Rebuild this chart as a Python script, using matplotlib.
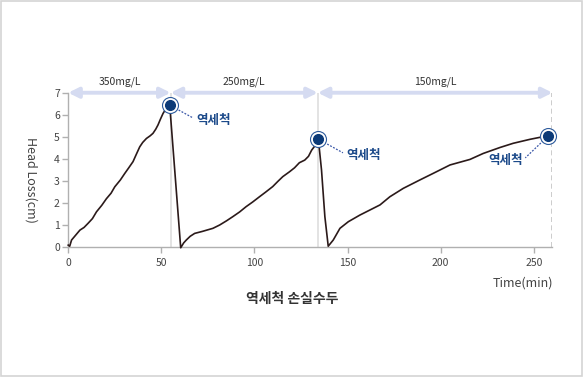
import matplotlib
matplotlib.use("Agg")
import matplotlib.pyplot as plt
from matplotlib.patches import Rectangle

plt.rcParams["font.family"] = ["Noto Sans CJK KR", "DejaVu Sans"]

# head loss curve (three filter runs)
time_min = [0, 0.8, 1.8, 4, 6.3, 8.5, 10.7, 13, 15.2, 18, 20.5, 23, 25, 28, 30.4,
            32.5, 34.8, 36.5, 38.4, 40, 42, 44, 45.5, 47, 48.2, 49.5, 50.9, 52.3,
            53.6, 54.5,
            60.4, 62, 63.4, 65.5, 67.9, 72, 77.7, 81.3, 85, 88.4, 92, 95.5, 99,
            102.7, 106, 109.8, 112.5, 115.2, 118.8, 121.5, 124.1, 127, 129, 130.7,
            132.5, 134.3,
            136, 137.8, 139.6, 142.3, 145.9, 150.4, 156.6, 162, 167.4, 172.7,
            179.9, 188.8, 196, 205, 215.7, 222.8, 231.8, 238.9, 247.9, 255, 257.7]
head_loss = [0.1, 0.05, 0.33, 0.55, 0.78, 0.9, 1.09, 1.3, 1.61, 1.9, 2.2, 2.45, 2.74,
             3.05, 3.35, 3.6, 3.88, 4.2, 4.55, 4.75, 4.93, 5.05, 5.16, 5.35, 5.54,
             5.8, 6.06, 6.25, 6.36, 6.44,
             -0.02, 0.2, 0.33, 0.5, 0.63, 0.72, 0.86, 1.01, 1.2, 1.39, 1.6, 1.84,
             2.05, 2.29, 2.5, 2.75, 2.98, 3.2, 3.42, 3.6, 3.83, 3.95, 4.12, 4.4,
             4.6, 4.9,
             3.5, 1.39, 0.05, 0.33, 0.86, 1.16, 1.46, 1.69, 1.92, 2.29, 2.67, 3.05,
             3.35, 3.73, 3.98, 4.25, 4.52, 4.71, 4.89, 5.01, 5.04]

# backwash points and concentration ranges
backwash_t = [54.5, 134.3, 257.7]
backwash_h = [6.44, 4.9, 5.04]
backwash_label = "역세척"
label_xy = [(69, 5.76), (149.5, 4.18), (243.9, 3.95)]
label_ha = ["left", "left", "right"]
range_edges = [0, 55, 134, 260]
range_labels = ["350mg/L", "250mg/L", "150mg/L"]

x_ticks = [0, 50, 100, 150, 200, 250]
y_ticks = [0, 1, 2, 3, 4, 5, 6, 7]

fig = plt.figure(figsize=(5.84, 3.77), dpi=100)
fig.patches.append(Rectangle((0.001, 0.002), 0.996, 0.995, transform=fig.transFigure,
                             fill=False, edgecolor="#d4d4d4", lw=1.2))
ax = fig.add_axes([0.1168, 0.344, 0.8292, 0.41])

navy = "#0b3a78"
ax.plot(time_min, head_loss, color="#2b1a1a", lw=1.2, clip_on=False, zorder=3)

# separator lines
for e in range_edges[1:-1]:
    ax.plot([e, e], [0, 7], color="#dedede", lw=1.2, zorder=1)
ax.plot([range_edges[-1], range_edges[-1]], [0, 7], color="#c4c4c4", lw=1.2,
        ls=(0, (3, 2)), zorder=1)

# concentration arrows
for i, lab in enumerate(range_labels):
    a, b = range_edges[i], range_edges[i + 1]
    ax.annotate("", xy=(b, 7), xytext=(a, 7),
                arrowprops=dict(arrowstyle="<|-|>,head_length=0.6,head_width=0.3",
                                color="#d5dbf1", lw=2.8, shrinkA=0, shrinkB=0),
                annotation_clip=False)
    ax.text((a + b) / 2, 7.25, lab, ha="center", va="bottom", fontsize=7.5,
            color="#333333")

# backwash markers
for (t, h), (lx, ly), ha in zip(zip(backwash_t, backwash_h), label_xy, label_ha):
    lx_line = lx - 2 if ha == "left" else lx + 1.5
    ax.plot([t, lx_line], [h, ly + 0.1], color="#3a57a8", lw=0.9, ls=(0, (1.5, 1.2)),
            zorder=4, clip_on=False)
    ax.plot(t, h, "o", ms=11.5, mfc="white", mec="#2c5a9c", mew=0.8, zorder=5,
            clip_on=False)
    ax.plot(t, h, "o", ms=7, mfc=navy, mec=navy, zorder=6, clip_on=False)
    ax.text(lx, ly, backwash_label, ha=ha, va="center", fontsize=9, color="#1c4a8a",
            fontweight="bold")

ax.set_xlim(0, 260)
ax.set_ylim(0, 7)
ax.set_xticks(x_ticks)
ax.set_yticks(y_ticks)
for s in ["top", "right"]:
    ax.spines[s].set_visible(False)
for s in ["left", "bottom"]:
    ax.spines[s].set_color("#b0b0b0")
    ax.spines[s].set_linewidth(1.0)
ax.tick_params(colors="#b0b0b0", labelcolor="#444444", labelsize=7.5, length=4,
               width=1.0, pad=2)
ax.tick_params(axis="x", pad=3.5)

fig.text(30.5 / 584, 1 - 180 / 377, "Head Loss(cm)", rotation=-90, ha="center",
         va="center", fontsize=9, color="#444444")
fig.text(553 / 584, 1 - 283 / 377, "Time(min)", ha="right", va="center", fontsize=9,
         color="#444444")
fig.text(292 / 584, 1 - 299 / 377, "역세척 손실수두", ha="center", va="center",
         fontsize=10, color="#333333", fontweight="bold")

fig.savefig("out.png", dpi=100)
